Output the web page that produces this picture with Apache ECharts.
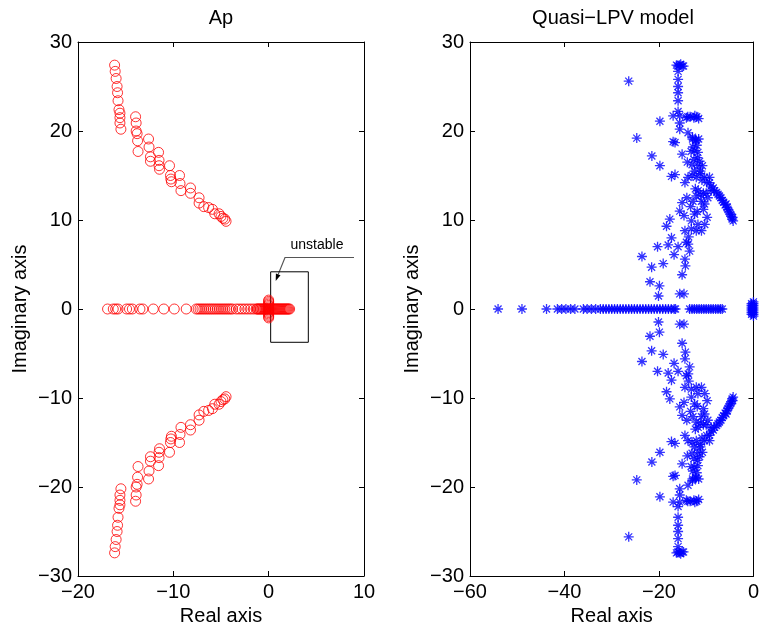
<!DOCTYPE html>
<html><head><meta charset="utf-8">
<script src="https://cdn.jsdelivr.net/npm/echarts@6/dist/echarts.min.js"></script>
<style>html,body{margin:0;padding:0;background:#fff}#c{width:762px;height:632px}</style>
</head><body><div id="c"></div>
<script>
// ---------- Data ----------
// Left plot "Ap": upper complex branch (lower branch = complex conjugates)
var apUpperRe = [-16.16,-16.1,-16.0,-15.9,-15.85,-15.8,-15.7,-15.6,-15.6,-15.6,-15.5,
  -13.96,-13.9,-13.9,-13.8,-13.75,-13.7,-12.6,-12.55,-12.4,-12.4,
  -11.55,-11.5,-11.5,-11.45,-10.4,-10.3,-10.26,-10.2,-9.35,-9.3,-9.2,
  -8.2,-8.2,-7.3,-7.3,-6.8,-6.3,-5.9,-5.65,-5.2,-5.0,-4.8,-4.6,-4.47];
var apUpperIm = [27.4,26.7,25.9,25.0,24.3,23.4,22.4,22.0,21.5,20.9,20.2,
  21.6,20.9,20.0,19.7,18.9,17.7,19.1,18.2,17.1,16.6,
  17.6,16.7,16.1,15.7,16.1,15.0,14.6,14.3,15.0,14.1,13.3,
  13.6,13.0,12.5,11.9,11.5,11.4,11.2,10.7,10.7,10.4,10.2,10.1,9.85];
// Left plot: real poles (imaginary part 0)
var apRealPoles = [-16.9,-16.3,-16.05,-15.8,-14.9,-14.6,-14.3,-13.5,-13.2,-12.1,-11.0,-9.9,-8.65,
  -7.6,-7.4,-7.2,-7.0,-6.8,-6.6,-6.4,-6.2,-6.0,-5.8,-5.6,-5.4,-5.2,-5.0,-4.8,-4.6,-4.4,-4.2,-4.0,-3.8,
  -3.4,-3.1,-2.8,-2.5,-2.2,-1.9,-1.6,
  -1.3,-1.2,-1.1,-1.0,-0.9,-0.8,-0.7,-0.6,-0.5,-0.4,-0.3,-0.2,-0.1,0.0,
  0.1,0.2,0.3,0.4,0.5,0.6,0.7,0.8,0.9,1.0,1.1,1.2,1.3,1.4,1.5,1.6,1.7,1.8,1.9,2.0,2.1,2.2];
// Left plot: poles near the origin (real part ~0)
var apNearZeroIm = [-1.0,-0.85,-0.7,-0.55,-0.4,-0.25,-0.1,0.1,0.25,0.4,0.55,0.7,0.85,1.0];

// Right plot "Quasi-LPV model": upper half-plane poles (lower = conjugates)
var lpvUpperRe = [-16.3,-15.7,-15.1,-15.95,-15.95,-15.95,-15.95,-15.95,-15.95,
  -26.4,-19.8,-24.7,-17.0,-15.6,-15.6,-15.6,-14.2,-13.4,-12.6,-12.0,
  -13.85,-12.9,-12.2,-11.6,-17.0,-16.6,-21.5,-15.1,-13.2,-12.4,-11.75,-11.4,
  -19.8,-11.75,-10.8,-11.2,-17.35,-16.6,-13.85,-12.1,-10.35,-9.3,-14.5,
  -8.25,-7.5,-6.9,-6.3,-5.8,-5.4,-5.0,-4.7,-4.5,-4.3,-9.9,-9.0,
  -12.1,-12.8,-11.0,-15.1,-15.6,-14.7,-17.7,-18.4,
  -12.45,-11.75,-13.15,-12.1,-14.5,-17.35,-20.3,-18.05,
  -15.95,-14.2,-13.5,-16.8,-14.5,-14.4,-23.6,-19.1,-21.55,
  -15.1,-21.9,-19.9,-20.1,-15.6,-14.7,
  -13.15,-11.9,-10.35,-9.65,-8.95,-11.0,-10.3,-9.8,-10.6,-13.8,-13.7,
  -11.7,-10.6,-14.0,-13.0,-12.5,
  -4.4,-4.8,-5.2,-5.6,-6.0,-6.6,-7.2,-7.8,-8.5,-9.3,
  -12.8,-12.0,-11.9,-12.6,-11.3,-10.9,-13.0,-12.3,-11.2,-10.0,
  -16.0,-15.4,-14.8,-13.9,-12.4,-11.6,-12.9,-12.2,-14.1,-13.3];
var lpvUpperIm = [27.4,27.4,27.3,26.7,25.8,25.0,24.3,23.4,22.2,
  25.6,21.1,19.2,21.7,21.7,20.9,20.2,21.5,21.6,21.5,21.6,
  19.8,19.1,19.0,19.1,18.8,18.7,17.2,17.4,17.7,17.8,17.6,16.6,
  16.1,16.1,16.1,15.5,14.9,15.1,14.8,14.8,14.8,14.8,14.2,
  13.3,12.9,12.5,12.0,11.8,11.2,10.8,10.4,10.1,9.9,14.2,13.8,
  12.7,12.1,12.1,11.95,11.0,10.5,10.1,9.3,
  10.65,9.5,9.0,8.8,8.8,8.0,7.0,7.2,
  7.0,7.5,6.5,6.1,5.6,4.85,5.9,5.1,4.7,
  3.85,3.06,2.6,1.46,1.7,1.7,
  9.9,10.95,11.8,12.5,13.3,8.8,9.5,10.3,11.2,7.3,8.1,
  13.3,13.0,16.5,16.2,15.5,
  10.3,10.6,11.0,11.4,11.7,12.2,12.7,13.1,13.6,14.2,
  18.2,18.4,17.0,16.8,15.2,14.5,15.0,13.5,12.8,13.0,
  27.3,27.5,27.3,21.6,21.7,21.4,19.3,18.9,12.5,11.5];
// Right plot: real poles
var lpvRealPoles = [-54.06,-49.0,-43.8,-41.5,-40.6,-39.7,-38.7,-37.8,-36.0,-35.2,-34.3,-33.4,
  -32.4,-31.8,-31.2,-30.6,-30.0,-29.4,-28.8,-28.2,-27.6,-27.0,-26.4,-25.8,-25.2,-24.6,-24.0,
  -23.4,-22.8,-22.2,-21.6,-21.0,-20.4,-19.8,-19.2,-18.6,-18.0,-17.4,-16.8,-16.5,
  -13.5,-13.0,-12.5,-12.0,-11.5,-11.0,-10.5,-10.0,-9.5,-9.0,-8.5,-8.0,-7.5,-7.0,-6.6];
// Right plot: poles near the origin
var lpvNearZeroRe = [0,0,0,0,0,0,0,0,0,-0.4,-0.4,-0.4,-0.4,-0.4,-0.4,-0.4];
var lpvNearZeroIm = [-0.8,-0.6,-0.4,-0.2,0,0.2,0.4,0.6,0.8,-0.6,-0.4,-0.2,0,0.2,0.4,0.6];

// Tick settings
var leftXTicks = {min:-20, max:10, interval:10};
var rightXTicks = {min:-60, max:0, interval:20};
var yTicks = {min:-30, max:30, interval:10};

// ---------- Build ----------
function pts(re, im){ var o=[]; for(var i=0;i<re.length;i++) o.push([re[i], im[i]]); return o; }
function conj(re, im){ var o=[]; for(var i=0;i<re.length;i++) o.push([re[i], -im[i]]); return o; }
var apData = [].concat(pts(apUpperRe, apUpperIm), conj(apUpperRe, apUpperIm),
  apRealPoles.map(function(x){return [x,0];}), apNearZeroIm.map(function(y){return [0,y];}));
var lpvData = [].concat(pts(lpvUpperRe, lpvUpperIm), conj(lpvUpperRe, lpvUpperIm),
  lpvRealPoles.map(function(x){return [x,0];}), pts(lpvNearZeroRe, lpvNearZeroIm));

var FONT = 'Liberation Sans, Arial, Helvetica, sans-serif';
function fmt(v){ return String(v).replace('-', '\u2212'); }
function xAx(grid, t, name){
  return [{type:'value', gridIndex:grid, min:t.min, max:t.max, interval:t.interval, position:'bottom',
    axisLine:{show:true, onZero:false, lineStyle:{color:'#000', width:1}},
    axisTick:{show:true, inside:true, length:5, lineStyle:{color:'#000'}},
    axisLabel:{color:'#000', fontSize:20, fontFamily:FONT, margin:6, formatter:fmt},
    splitLine:{show:false}, name:name, nameLocation:'middle', nameGap:28,
    nameTextStyle:{color:'#000', fontSize:20, fontFamily:FONT, verticalAlign:'top'}},
   {type:'value', gridIndex:grid, min:t.min, max:t.max, interval:t.interval, position:'top',
    axisLine:{show:true, onZero:false, lineStyle:{color:'#000', width:1}},
    axisTick:{show:true, inside:true, length:5, lineStyle:{color:'#000'}},
    axisLabel:{show:false}, splitLine:{show:false}}];
}
function yAx(grid, t, name){
  return [{type:'value', gridIndex:grid, min:t.min, max:t.max, interval:t.interval, position:'left',
    axisLine:{show:true, onZero:false, lineStyle:{color:'#000', width:1}},
    axisTick:{show:true, inside:true, length:5, lineStyle:{color:'#000'}},
    axisLabel:{color:'#000', fontSize:20, fontFamily:FONT, margin:6, formatter:fmt},
    splitLine:{show:false}, name:name, nameLocation:'middle', nameGap:48, nameRotate:90,
    nameTextStyle:{color:'#000', fontSize:20, fontFamily:FONT}},
   {type:'value', gridIndex:grid, min:t.min, max:t.max, interval:t.interval, position:'right',
    axisLine:{show:true, onZero:false, lineStyle:{color:'#000', width:1}},
    axisTick:{show:true, inside:true, length:5, lineStyle:{color:'#000'}},
    axisLabel:{show:false}, splitLine:{show:false}}];
}
var starPath = 'path://M0,5L10,5M5,0L5,10M1.5,1.5L8.5,8.5M8.5,1.5L1.5,8.5';

var chart = echarts.init(document.getElementById('c'), null, {renderer:'canvas'});
chart.setOption({
  animation:false,
  backgroundColor:'#fff',
  grid:[{left:78, right:398, top:42, bottom:56},{left:470, right:6, top:42, bottom:56}],
  xAxis:[].concat(xAx(0, leftXTicks, 'Real axis'), xAx(1, rightXTicks, 'Real axis')),
  yAxis:[].concat(yAx(0, yTicks, 'Imaginary axis'), yAx(1, yTicks, 'Imaginary axis')),
  series:[
    {type:'scatter', xAxisIndex:0, yAxisIndex:0, data:apData, symbol:'circle', symbolSize:10,
     itemStyle:{color:'rgba(0,0,0,0)', borderColor:'#ff0000', borderWidth:1},
     emphasis:{disabled:true}, silent:true,
     markArea:{silent:true, itemStyle:{color:'rgba(0,0,0,0)', borderColor:'#000', borderWidth:1},
       data:[[{coord:[0.21,4.18]},{coord:[4.16,-3.74]}]]}},
    {type:'scatter', xAxisIndex:2, yAxisIndex:2, data:lpvData, symbol:starPath, symbolSize:10,
     itemStyle:{color:'#0000ff', borderColor:'#0000ff', borderWidth:1.3},
     emphasis:{disabled:true}, silent:true}
  ],
  graphic:[
    {type:'text', x:221, y:18, style:{text:'Ap', font:'20px '+FONT, fill:'#000', align:'center', verticalAlign:'middle', textAlign:'center', textVerticalAlign:'middle'}},
    {type:'text', x:613, y:18, style:{text:'Quasi\u2212LPV model', font:'20px '+FONT, fill:'#000', align:'center', verticalAlign:'middle', textAlign:'center', textVerticalAlign:'middle'}},
    {type:'polyline', shape:{points:[[354,257.5],[285,257.5],[278.2,274.4]]}, style:{stroke:'#555', lineWidth:1.2, fill:null}},
    {type:'polygon', shape:{points:[[275.7,281],[280.5,275.3],[275.9,273.5]]}, style:{fill:'#000'}},
    {type:'text', x:317, y:245, style:{text:'unstable', font:'14px '+FONT, fill:'#000', align:'center', verticalAlign:'middle', textAlign:'center', textVerticalAlign:'middle'}}
  ]
});
</script></body></html>
